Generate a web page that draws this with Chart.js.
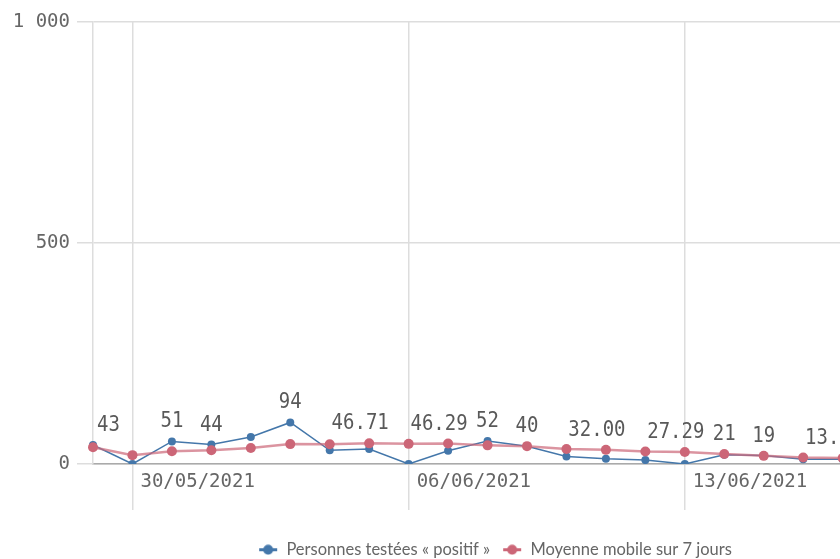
<!DOCTYPE html>
<html>
<head>
<meta charset="utf-8">
<script src="https://cdn.jsdelivr.net/npm/chart.js@4.4.0/dist/chart.umd.min.js"></script>
<style>
  html, body { margin: 0; padding: 0; background: #fff; overflow: hidden; }
  #wrap { width: 990px; height: 570px; }
</style>
</head>
<body>
<div id="wrap"><canvas id="cas"></canvas></div>
<script>
// Dates (the chart continues past the right edge of the window)
const dates = ['29/05/2021', '30/05/2021', '31/05/2021', '01/06/2021', '02/06/2021', '03/06/2021',
  '04/06/2021', '05/06/2021', '06/06/2021', '07/06/2021', '08/06/2021', '09/06/2021', '10/06/2021',
  '11/06/2021', '12/06/2021', '13/06/2021', '14/06/2021', '15/06/2021', '16/06/2021', '17/06/2021',
  '18/06/2021', '19/06/2021', '20/06/2021'];
const positifs = [43, 0, 51, 44, 61, 94, 31, 34, 0, 30, 52, 40, 17, 12, 9, 0, 21, 19, 11, 11];
const moyenne7j = [38, 20, 29, 31, 36, 45, 44.86, 46.71, 45.57, 46.29, 42.14, 40.43, 33.86, 32.00,
  28.14, 27.29, 22.71, 18.43, 14.86, 13.57];
// quelle série porte l'étiquette de valeur : 'p' = positifs, 'm' = moyenne, null = aucune
const etiquettes = ['p', null, 'p', 'p', null, 'p', null, 'm', null, 'm', 'p', 'p', null, 'm',
  null, 'm', 'p', 'p', null, 'm'];
const yTicks = [0, 500, 1000];

const BLEU = '#4477aa';
const ROUGE = '#cc6677';

function marqueur(couleur) {
  const c = document.createElement('canvas');
  c.width = 20; c.height = 11;
  const g = c.getContext('2d');
  g.strokeStyle = couleur; g.lineWidth = 3;
  g.beginPath(); g.moveTo(1, 5.5); g.lineTo(19, 5.5); g.stroke();
  g.fillStyle = couleur;
  g.beginPath(); g.arc(10, 5.5, 5, 0, Math.PI * 2); g.fill();
  return c;
}

// étiquettes de valeurs au-dessus des points
const valeursPlugin = {
  id: 'valeurs',
  afterDatasetsDraw(chart) {
    const ctx = chart.ctx;
    const area = chart.chartArea;
    const mP = chart.getDatasetMeta(0), mM = chart.getDatasetMeta(1);
    ctx.save();
    ctx.font = '19px "DejaVu Sans Mono"';
    ctx.fillStyle = '#595959';
    ctx.textAlign = 'left';
    ctx.textBaseline = 'alphabetic';
    etiquettes.forEach((s, i) => {
      if (!s) return;
      const txt = s === 'p' ? String(positifs[i]) : moyenne7j[i].toFixed(2);
      const pt = (s === 'p' ? mP : mM).data[i];
      const y = Math.min(mP.data[i].y, mM.data[i].y) - 14;
      const w = ctx.measureText(txt).width;
      let x = pt.x - w / 2 - (s === 'm' ? 9 : 0);
      if (x < area.left + 4) x = area.left + 4;
      ctx.save();
      ctx.translate(x, y);
      ctx.scale(1, 1.12);
      ctx.fillText(txt, 0, 0);
      ctx.restore();
    });
    ctx.restore();
  }
};

const ctx = document.getElementById('cas').getContext('2d');
new Chart(ctx, {
  type: 'line',
  data: {
    labels: dates,
    datasets: [{
      label: 'Personnes testées « positif »',
      data: positifs,
      borderColor: BLEU,
      backgroundColor: BLEU,
      borderWidth: 1.5,
      pointRadius: 4,
      pointBorderWidth: 0,
      pointBackgroundColor: BLEU,
      tension: 0,
      order: 1
    }, {
      label: 'Moyenne mobile sur 7 jours',
      data: moyenne7j,
      borderColor: 'rgba(204,102,119,0.7)',
      backgroundColor: ROUGE,
      borderWidth: 2.5,
      pointRadius: 5,
      pointBorderWidth: 0,
      pointBackgroundColor: ROUGE,
      tension: 0,
      order: 0
    }]
  },
  options: {
    responsive: true,
    maintainAspectRatio: false,
    animation: false,
    layout: { padding: { top: 22, left: 0, right: 0, bottom: 2 } },
    scales: {
      x: {
        afterFit: (s) => { s.height = 65.5; },
        border: { color: '#aaaaaa', width: 1.5 },
        grid: {
          color: (c) => (c.tick && c.tick.label ? '#dddddd' : 'rgba(0,0,0,0)'),
          tickColor: (c) => (c.tick && c.tick.label ? '#dddddd' : 'rgba(0,0,0,0)'),
          lineWidth: 1.5,
          tickLength: 46
        },
        ticks: {
          autoSkip: false,
          maxRotation: 0,
          align: 'start',
          labelOffset: 8,
          padding: -39,
          color: '#666666',
          font: { family: 'DejaVu Sans Mono', size: 19 },
          callback: function (v, i) {
            return (i % 7 === 1 && i < positifs.length) ? dates[i] : '';
          }
        }
      },
      y: {
        min: 0,
        max: 1000,
        afterFit: (s) => { s.width = 93; },
        afterBuildTicks: (s) => { s.ticks = yTicks.map(v => ({ value: v })); },
        border: { color: '#dddddd', width: 1.5 },
        grid: { color: '#dddddd', lineWidth: 1.5, tickLength: 16, tickColor: '#dddddd' },
        ticks: {
          padding: 7,
          color: '#666666',
          font: { family: 'DejaVu Sans Mono', size: 19 },
          callback: (v) => String(v).replace(/\B(?=(\d{3})+$)/g, ' ')
        }
      },
      // axe vide à droite : réserve la marge sous laquelle la légende reste centrée
      marge: {
        type: 'linear',
        position: 'right',
        display: true,
        afterFit: (s) => { s.width = 29; },
        grid: { display: false },
        border: { display: false },
        ticks: { display: false }
      }
    },
    plugins: {
      tooltip: { enabled: false },
      legend: {
        position: 'bottom',
        labels: {
          usePointStyle: true,
          pointStyleWidth: 20,
          boxHeight: 10,
          padding: 12,
          color: '#666666',
          font: { family: 'Lato', size: 16.5 },
          sort: (a, b) => a.datasetIndex - b.datasetIndex,
          generateLabels: (chart) => chart.data.datasets.map((d, i) => ({
            text: d.label,
            datasetIndex: i,
            pointStyle: marqueur(i === 0 ? BLEU : ROUGE),
            fillStyle: i === 0 ? BLEU : ROUGE,
            strokeStyle: i === 0 ? BLEU : ROUGE,
            fontColor: '#666666',
            lineWidth: 0,
            hidden: false
          }))
        }
      }
    }
  },
  plugins: [valeursPlugin]
});
</script>
</body>
</html>
